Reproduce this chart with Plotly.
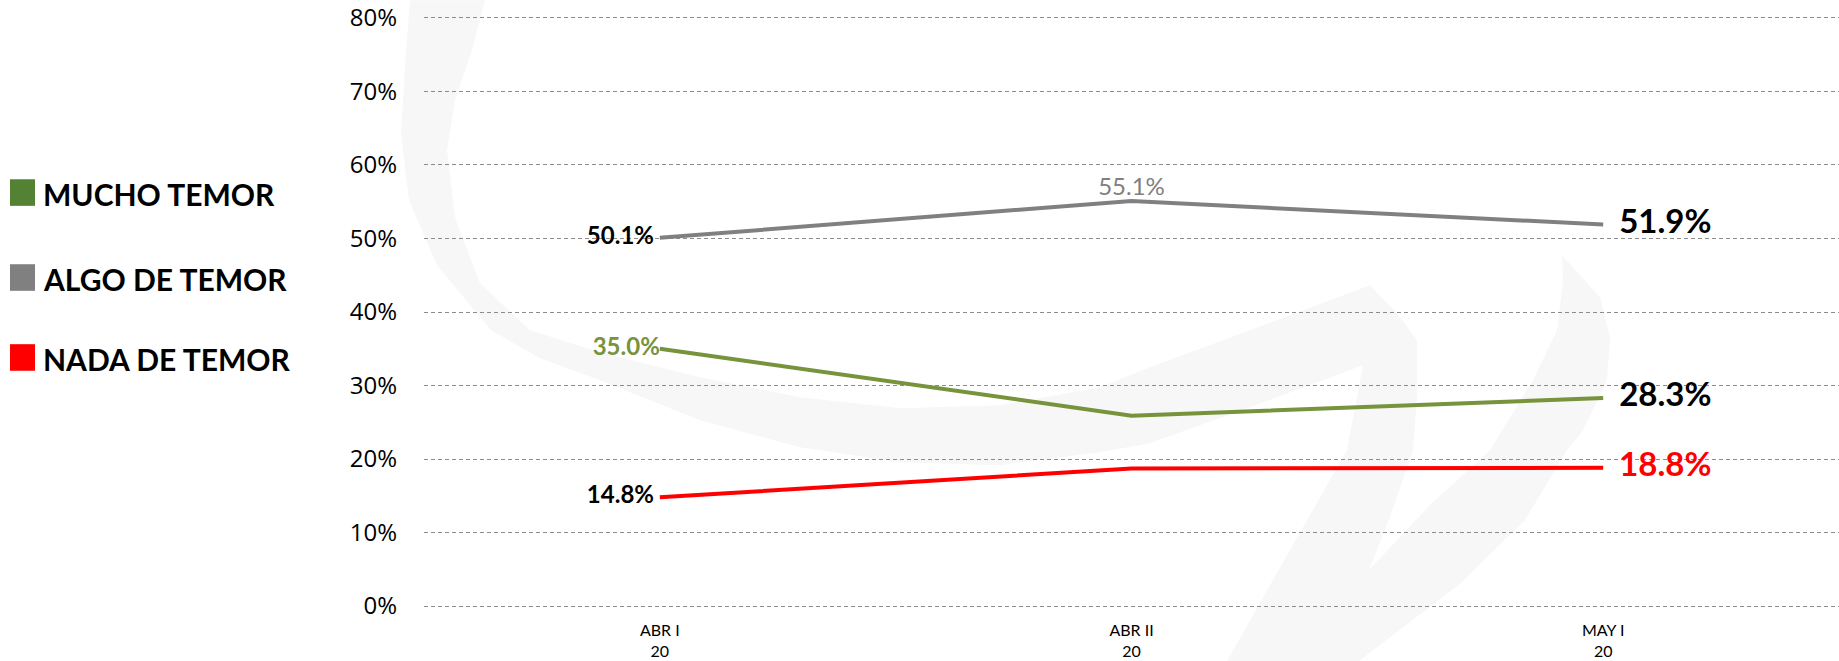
import plotly.graph_objects as go

categories = ["ABR I<br>20", "ABR II<br>20", "MAY I<br>20"]
mucho = [0.350, 0.259, 0.283]
algo = [0.501, 0.551, 0.519]
nada = [0.148, 0.187, 0.188]

series_names = ["MUCHO TEMOR", "ALGO DE TEMOR", "NADA DE TEMOR"]
line_colors = ["#77933C", "#808080", "#FF0000"]
legend_colors = ["#548235", "#808080", "#FF0000"]

def fmt(v):
    return f"{v*100:.1f}%"

# page geometry in screen px (body margin removed via post_script)
BODY = 0
SCREEN_W, SCREEN_H = 1839, 661
Y_MIN, Y_MAX = -0.004, 0.804
PX_PER_UNIT = (606 - 17.6) / 0.8
PLOT_L, PLOT_R = 424, 1839
PLOT_T = 17.6 - (Y_MAX - 0.8) * PX_PER_UNIT
PLOT_B = 606 - Y_MIN * PX_PER_UNIT

def px(x):
    return (x - PLOT_L) / (PLOT_R - PLOT_L)

def py(y):
    return (PLOT_B - y) / (PLOT_B - PLOT_T)

fig = go.Figure()

# faint background watermark (decoration)
wm = [
    (410, 0), (485, 0), (472, 50), (455, 100), (447, 150), (455, 217), (480, 283),
    (530, 330), (600, 352), (700, 377), (800, 397), (900, 408), (1000, 405),
    (1100, 387), (1150, 367), (1250, 330), (1370, 285),
    (1397, 313), (1417, 340), (1417, 397), (1413, 450), (1390, 517), (1369, 570),
    (1430, 505), (1490, 450), (1533, 380), (1557, 330), (1563, 280), (1562, 255),
    (1600, 297), (1610, 337), (1607, 380), (1583, 430), (1567, 450), (1525, 520),
    (1461, 583), (1359, 661), (1227, 661), (1290, 550), (1347, 450), (1363, 365),
    (1250, 407), (1150, 443), (1100, 452), (1000, 465), (900, 462), (800, 447),
    (700, 420), (600, 380), (540, 358), (491, 330), (437, 265), (409, 200),
    (401, 133), (405, 67),
]
path = "M " + " L ".join(f"{px(x):.5f},{py(y):.5f}" for x, y in wm) + " Z"
fig.add_shape(type="path", path=path, xref="paper", yref="paper",
              fillcolor="#f7f7f7", line=dict(width=0), layer="below")

label_cfg = {
    "MUCHO TEMOR": dict(show=[True, False, True], pos=["middle left", "top center", "middle right"],
                        color=["#77933C", "#77933C", "#000000"], size=[24, 24, 33],
                        weight=["bold", "bold", "bold"], pad=["", "", "  "]),
    "ALGO DE TEMOR": dict(show=[True, True, True], pos=["middle left", "top center", "middle right"],
                          color=["#000000", "#808080", "#000000"], size=[24, 24, 33],
                          weight=["bold", "normal", "bold"], pad=[" ", "", "  "]),
    "NADA DE TEMOR": dict(show=[True, False, True], pos=["middle left", "top center", "middle right"],
                          color=["#000000", "#000000", "#FF0000"], size=[24, 24, 33],
                          weight=["bold", "bold", "bold"], pad=[" ", "", "  "]),
}

for name, vals, col in zip(series_names, [mucho, algo, nada], line_colors):
    cfg = label_cfg[name]
    texts = []
    for v, s, p, pad in zip(vals, cfg["show"], cfg["pos"], cfg["pad"]):
        if not s:
            texts.append("")
        elif p == "middle right":
            texts.append(pad + fmt(v))
        elif p == "middle left":
            texts.append(fmt(v) + pad)
        else:
            texts.append(fmt(v))
    fig.add_trace(go.Scatter(
        x=categories, y=vals, mode="lines+text", name=name,
        line=dict(color=col, width=4),
        text=texts, textposition=cfg["pos"],
        textfont=dict(family="Lato", size=cfg["size"], color=cfg["color"], weight=cfg["weight"]),
        showlegend=False, cliponaxis=False, hoverinfo="skip",
    ))

# legend: coloured squares + bold labels
legend_y = [192.3, 277.3, 357.3]
for name, col, yy in zip(series_names, legend_colors, legend_y):
    fig.add_shape(type="rect", xref="paper", yref="paper",
                  x0=px(10), x1=px(35), y0=py(yy - 13.3), y1=py(yy + 13.3),
                  fillcolor=col, line=dict(width=0))
    fig.add_annotation(xref="paper", yref="paper", x=px(41), y=py(yy + 1.5), text=name,
                       showarrow=False, xanchor="left", yanchor="middle",
                       font=dict(family="Lato", size=30, color="#000000", weight="bold"))

fig.update_layout(
    width=SCREEN_W - BODY, height=SCREEN_H - BODY,
    margin=dict(l=PLOT_L - BODY, r=0, t=PLOT_T - BODY, b=SCREEN_H - PLOT_B, autoexpand=False),
    paper_bgcolor="white", plot_bgcolor="rgba(0,0,0,0)",
    showlegend=False,
    xaxis=dict(range=[-0.5, 2.5], showgrid=False, zeroline=False, showline=False,
               automargin=False, ticks="", ticklabelstandoff=10,
               tickfont=dict(family="Lato", size=16, color="#000000")),
    yaxis=dict(range=[Y_MIN, Y_MAX], dtick=0.1, tick0=0, tickformat=".0%", showgrid=True,
               gridcolor="#8c8c8c", griddash="4px,3px", gridwidth=1, zeroline=False,
               showline=False, automargin=False, ticks="", ticklabelstandoff=26,
               ticklabeloverflow="allow",
               tickfont=dict(family="Open Sans", size=24, color="#000000")),
)

fig.write_html("out.html",
               config={"displayModeBar": False},
               post_script="document.body.style.margin='0';document.body.style.overflow='hidden';")
